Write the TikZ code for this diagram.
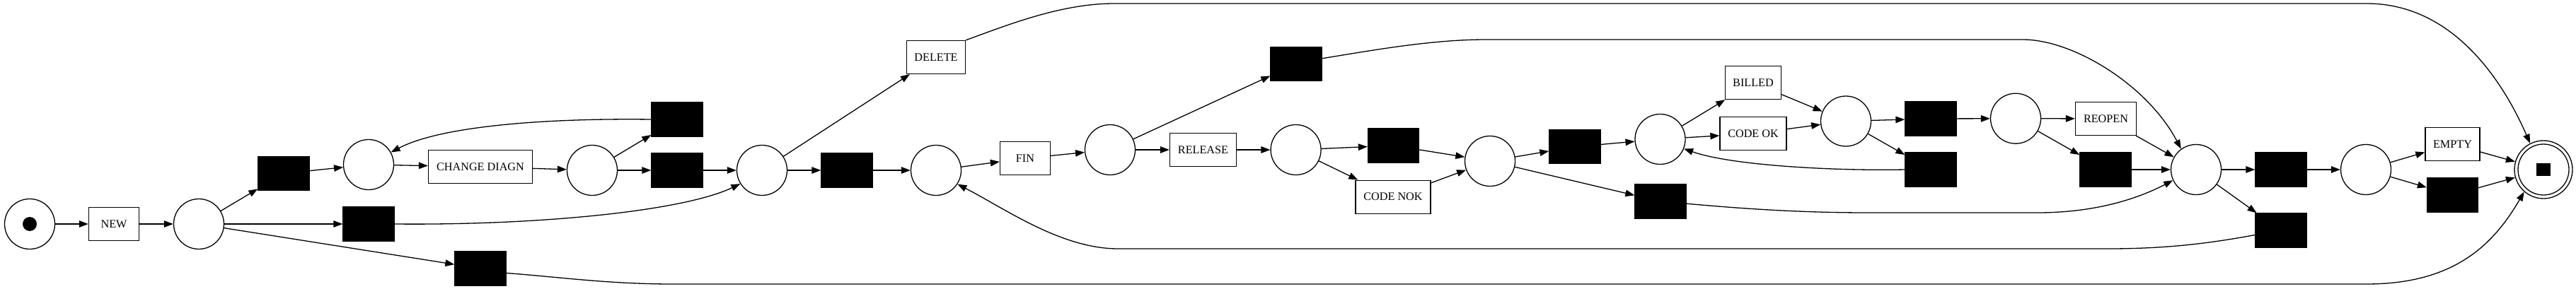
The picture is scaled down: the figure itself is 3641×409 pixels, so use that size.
\documentclass[tikz,border=0pt]{standalone}
\usepackage{fontspec}
\setmainfont{Liberation Serif}
\usetikzlibrary{arrows.meta}
\begin{document}
\begin{tikzpicture}[x=1pt,y=-1pt,line width=1.3pt,
  place/.style={circle,draw,minimum size=71pt,inner sep=0pt},
  blk/.style={rectangle,draw,fill=black,minimum width=72pt,minimum height=48pt,inner sep=0pt},
  lbl/.style={rectangle,draw,minimum height=47pt,inner sep=0pt,font=\fontsize{16.2}{19}\selectfont},
  arr/.style={-{Triangle[length=13pt,width=9.5pt]}}]
\useasboundingbox (0,0) rectangle (3641,409);
% places
\node[place] (ps) at (42,317) {};
\node[circle,fill,minimum size=20pt,inner sep=0pt] (tok) at (ps) {};
\node[place] (p1) at (281,317) {};
\node[place] (p2) at (521,233) {};
\node[place] (p3) at (837,241) {};
\node[place] (p4) at (1077,241) {};
\node[place] (p5) at (1323,241) {};
\node[place] (p6) at (1569,212) {};
\node[place] (p7) at (1831.6,212) {};
\node[place] (p8) at (2106,228) {};
\node[place] (p9) at (2346.5,197) {};
\node[place] (p10) at (2609,171.5) {};
\node[place] (p11) at (2849,167.7) {};
\node[place] (p12) at (3104,240) {};
\node[place] (p13) at (3344,240) {};
\node[circle,draw,minimum size=82pt,inner sep=0pt] (pend) at (3595,240) {};
\node[circle,draw,minimum size=72pt,inner sep=0pt] (pendin) at (pend) {};
\node[rectangle,fill,minimum width=20pt,minimum height=18pt,inner sep=0pt] (endtok) at (pend) {};
% labelled transitions
\node[lbl,minimum width=71pt] (new) at (161,317) {NEW};
\node[lbl,minimum width=147pt] (chd) at (679,236) {CHANGE DIAGN};
\node[lbl,minimum width=83pt] (del) at (1323,81) {DELETE};
\node[lbl,minimum width=71pt] (fin) at (1449,224) {FIN};
\node[lbl,minimum width=94pt] (rel) at (1700.5,212) {RELEASE};
\node[lbl,minimum width=106pt] (nok) at (1969,278.7) {CODE NOK};
\node[lbl,minimum width=79pt] (bil) at (2478,117) {BILLED};
\node[lbl,minimum width=94pt] (cok) at (2478,189) {CODE OK};
\node[lbl,minimum width=86pt] (reo) at (2976.5,168) {REOPEN};
\node[lbl,minimum width=77pt] (emp) at (3466.5,204) {EMPTY};
% silent transitions
\node[blk] (tu1) at (401,245.5) {};
\node[blk] (tm1) at (521,317) {};
\node[blk] (tl1) at (679,380) {};
\node[blk] (ta) at (957,169) {};
\node[blk] (tb) at (957,241) {};
\node[blk] (tc) at (1197,241) {};
\node[blk] (ttop) at (1832,90.5) {};
\node[blk] (td) at (1969.5,206) {};
\node[blk] (te) at (2226,207.7) {};
\node[blk] (tf) at (2347,285) {};
\node[blk] (tg) at (2729,168) {};
\node[blk] (th) at (2729,240) {};
\node[blk] (ti) at (2976,240) {};
\node[blk] (tj) at (3224,240) {};
\node[blk] (tk) at (3224,326) {};
\node[blk] (tlz) at (3466.5,276) {};
% arcs
\draw[arr] (ps) -- (new);
\draw[arr] (new) -- (p1);
\draw[arr] (p1) -- (tu1);
\draw[arr] (p1) -- (tm1);
\draw[arr] (p1) -- (tl1);
\draw[arr] (tu1) -- (p2);
\draw[arr] (p2) -- (chd);
\draw[arr] (chd) -- (p3);
\draw[arr] (p3) -- (ta);
\draw[arr] (p3) -- (tb);
\draw[arr] (ta.west) .. controls (760,167) and (620,180) .. (p2.29);
\draw[arr] (tb) -- (p4);
\draw[arr] (tm1.east) .. controls (760,319) and (965,299) .. (p4.212);
\draw[arr] (tl1.-10) .. controls (790,392) and (860,402) .. (950,402) -- (3345,402) .. controls (3470,402) and (3525,345) .. (pend.229);
\draw[arr] (p4) -- (del);
\draw[arr] (p4) -- (tc);
\draw[arr] (tc) -- (p5);
\draw[arr] (del.north east) .. controls (1425,35) and (1500,5) .. (1575,5) -- (3345,5) .. controls (3470,5) and (3540,120) .. (pend.117);
\draw[arr] (p5) -- (fin);
\draw[arr] (fin) -- (p6);
\draw[arr] (p6) -- (ttop);
\draw[arr] (p6) -- (rel);
\draw[arr] (ttop.12) .. controls (1930,73) and (2020,56) .. (2100,56) -- (2859,56) .. controls (2930,56) and (3035,120) .. (p12.126);
\draw[arr] (rel) -- (p7);
\draw[arr] (p7) -- (td);
\draw[arr] (p7) -- (nok);
\draw[arr] (td) -- (p8);
\draw[arr] (nok) -- (p8);
\draw[arr] (p8) -- (te);
\draw[arr] (p8) -- (tf);
\draw[arr] (te) -- (p9);
\draw[arr] (tf.-5) .. controls (2460,295) and (2540,301) .. (2640,301) -- (2880,301) .. controls (2960,301) and (3020,282) .. (p12.205);
\draw[arr] (p9) -- (bil);
\draw[arr] (p9) -- (cok);
\draw[arr] (bil) -- (p10);
\draw[arr] (cok) -- (p10);
\draw[arr] (p10) -- (tg);
\draw[arr] (p10) -- (th);
\draw[arr] (th.west) .. controls (2600,242) and (2450,235) .. (p9.-22);
\draw[arr] (tg) -- (p11);
\draw[arr] (p11) -- (reo);
\draw[arr] (p11) -- (ti);
\draw[arr] (reo) -- (p12);
\draw[arr] (ti) -- (p12);
\draw[arr] (p12) -- (tj);
\draw[arr] (p12) -- (tk);
\draw[arr] (tj) -- (p13);
\draw[arr] (tk.190) .. controls (3120,345) and (3060,352) .. (2980,352) -- (1580,352) .. controls (1500,352) and (1420,295) .. (p5.-33);
\draw[arr] (p13) -- (emp);
\draw[arr] (p13) -- (tlz);
\draw[arr] (emp) -- (pend);
\draw[arr] (tlz) -- (pend);
\end{tikzpicture}
\end{document}
